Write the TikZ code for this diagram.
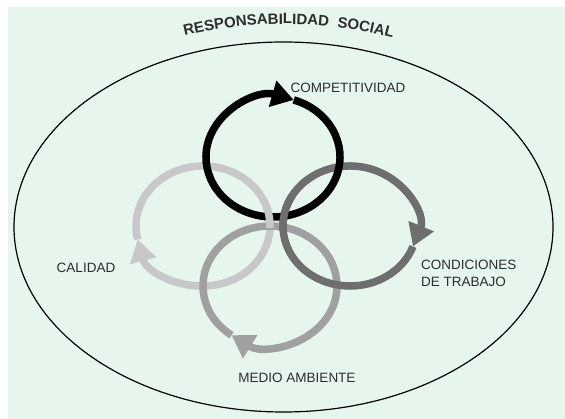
\documentclass[tikz,border=0pt]{standalone}
\usepackage{fontspec}
\setmainfont{Liberation Sans}
\usepackage{tikz}
\usetikzlibrary{arrows.meta,decorations.text}

\definecolor{fondo}{RGB}{230,246,237}
\definecolor{grisclaro}{RGB}{200,200,200}
\definecolor{grismedio}{RGB}{160,160,160}
\definecolor{grisoscuro}{RGB}{110,110,110}
\definecolor{textogris}{RGB}{45,45,45}
\newcommand{\fuentetitulo}{\fontsize{15}{18}\selectfont\bfseries}

\begin{document}
\begin{tikzpicture}[x=1pt,y=1pt]
    \tikzstyle{ring}=[line width=7.5pt,-{Triangle[length=22pt,width=26pt]}]
    \tikzstyle{patch}=[line width=7.5pt]
    \tikzstyle{etiqueta}=[font=\fontsize{13.5}{16}\selectfont,text=textogris,inner sep=0pt]
    \useasboundingbox (0,0) rectangle (565,419);
    \fill[fondo] (8,0) rectangle (565,412);
    % marco exterior
    \draw[line width=1.2pt] (283.5,192) ellipse [x radius=269.5, y radius=185];
    \path[decorate,decoration={text along path,text align=center,
        text={|\fuentetitulo\color{textogris}|RESPONSABILIDAD{\ }{\ }SOCIAL}}]
        (285,-35) ++(104:430) arc[start angle=104,end angle=75,radius=430];
    % centros de los anillos
    \coordinate (comp) at (273,262);
    \coordinate (cal) at (203,193);
    \coordinate (cond) at (350,193);
    \coordinate (medio) at (270,133);
    % anillos
    \draw[ring,grisclaro] (cal) ++(193:67 and 60) arc[start angle=553,end angle=193,x radius=67,y radius=60];
    \draw[ring,grismedio] (medio) ++(-125:67 and 60) arc[start angle=235,end angle=-125,x radius=67,y radius=60];
    \draw[ring,grisoscuro] (cond) ++(-20:67 and 60) arc[start angle=340,end angle=-20,x radius=67,y radius=60];
    \draw[ring,black] (comp) ++(72:67 and 60) arc[start angle=432,end angle=72,x radius=67,y radius=60];
    % cruces por encima del anillo negro
    \draw[patch,grisclaro] (cal) ++(25:67 and 60) arc[start angle=25,end angle=-2,x radius=67,y radius=60];
    \draw[patch,grisoscuro] (cond) ++(150:67 and 60) arc[start angle=150,end angle=185,x radius=67,y radius=60];
    % etiquetas
    \node[etiqueta] (lcomp) at (348,331) {COMPETITIVIDAD};
    \node[etiqueta,align=left,anchor=west] (lcond) at (421,146) {CONDICIONES\\[1pt]DE TRABAJO};
    \node[etiqueta] (lcal) at (86,151) {CALIDAD};
    \node[etiqueta] (lmedio) at (297,41) {MEDIO AMBIENTE};
\end{tikzpicture}
\end{document}
